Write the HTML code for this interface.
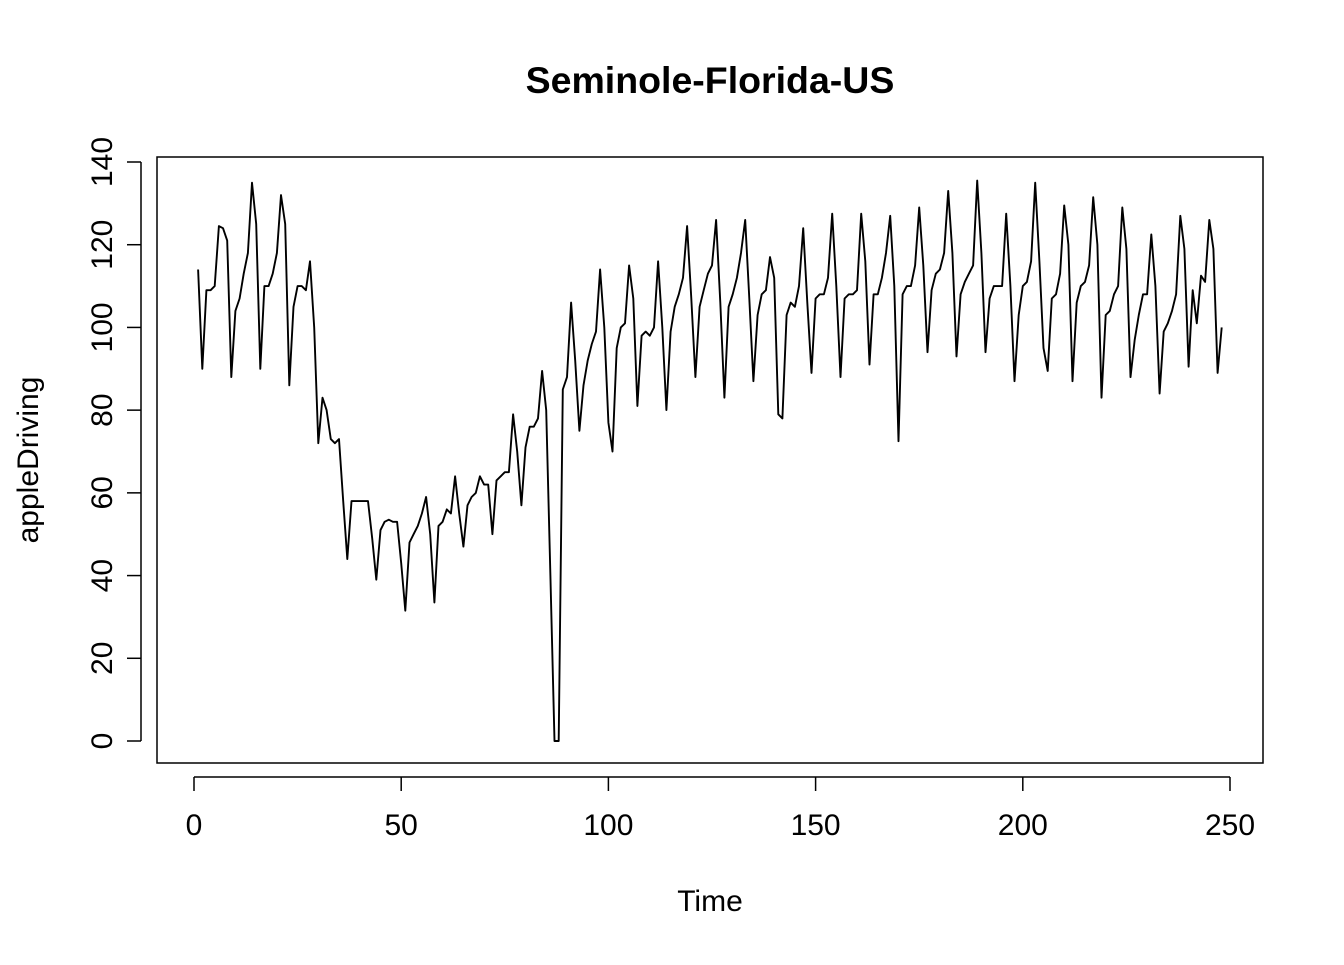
<!DOCTYPE html>
<html><head><meta charset="utf-8"><style>
html,body{margin:0;padding:0;background:#fff;}
svg text{font-family:"Liberation Sans",Arial,sans-serif;fill:#000;}
</style></head><body>
<svg id="chart" width="1344" height="960" xmlns="http://www.w3.org/2000/svg">
<rect width="1344" height="960" fill="#fff"/>
<text x="710" y="93" text-anchor="middle" font-size="37.5" font-weight="bold">Seminole-Florida-US</text>
<rect x="157" y="157" width="1106" height="606" fill="none" stroke="#000" stroke-width="1.5"/>
<text x="710" y="911" text-anchor="middle" font-size="30">Time</text>
<text transform="translate(38,460) rotate(-90)" text-anchor="middle" font-size="30">appleDriving</text>
<g id="xaxis"></g>
<g id="yaxis"></g>
<path id="series" fill="none" stroke="#000" stroke-width="1.9" stroke-linejoin="round"/>
</svg>
<script>
const xTicks=[0,50,100,150,200,250];
const yTicks=[0,20,40,60,80,100,120,140];
const values=[114,90,109,109,110,124.5,124,121,88,104,107,113,118,135,125,90,110,110,113,118,132,125,86,105,110,110,109,116,100,72,
83,80,73,72,73,58,44,58,58,58,58,58,49,39,51,53,53.5,53,53,43,31.5,48,50,52,55,59,50,33.5,52,53,
56,55,64,55,47,57,59,60,64,62,62,50,63,64,65,65,79,70,57,71,76,76,78,89.5,80,40,0,0,85,88,
106,92,75,86,92,96,99,114,100,77,70,95,100,101,115,107,81,98,99,98,100,116,100,80,99,105,108,112,124.5,107,
88,105,109,113,115,126,106,83,105,108,112,118,126,107,87,103,108,109,117,112,79,78,103,106,105,110,124,106,89,107,
108,108,112,127.5,110,88,107,108,108,109,127.5,116,91,108,108,112,118,127,110,72.5,108,110,110,115,129,115,94,109,113,114,
118,133,118,93,108,111,113,115,135.5,118,94,107,110,110,110,127.5,110,87,103,110,111,116,135,116,95,89.5,107,108,113,129.5,
120,87,106,110,111,115,131.5,120,83,103,104,108,110,129,119,88,97,103,108,108,122.5,110,84,99,101,104,108,127,119,90.5,
109,101,112.5,111,126,119,89,100];
const X=v=>194+v*(1230-194)/250;
const Y=v=>741-v*(741-162)/140;
const NS="http://www.w3.org/2000/svg";
const xa=document.getElementById('xaxis'), ya=document.getElementById('yaxis');
function mk(t,a,p){const e=document.createElementNS(NS,t);for(const k in a)e.setAttribute(k,a[k]);p.appendChild(e);return e;}
const xl=mk('line',{x1:X(0),x2:X(250),y1:777,y2:777,stroke:'#000','stroke-width':1.5},xa);


xTicks.forEach(t=>{
 const l=mk('line',{x1:X(t),x2:X(t),y1:777,y2:791,stroke:'#000','stroke-width':1.5},xa);
 
 
 const tx=mk('text',{x:X(t),y:835,'text-anchor':'middle','font-size':30},xa);
 tx.textContent=t;
 
 
});
const yl=mk('line',{x1:141,x2:141,y1:Y(0),y2:Y(140),stroke:'#000','stroke-width':1.5},ya);


yTicks.forEach(t=>{
 const l=mk('line',{x1:127,x2:141,y1:Y(t),y2:Y(t),stroke:'#000','stroke-width':1.5},ya);
 
 
 const tx=mk('text',{transform:`translate(112,${Y(t)}) rotate(-90)`,'text-anchor':'middle','font-size':30},ya);
 tx.textContent=t;
 
 
});
document.getElementById('series').setAttribute('d',values.map((v,i)=>(i?'L':'M')+X(i+1).toFixed(1)+','+Y(v).toFixed(1)).join(''));
</script>
</body></html>
